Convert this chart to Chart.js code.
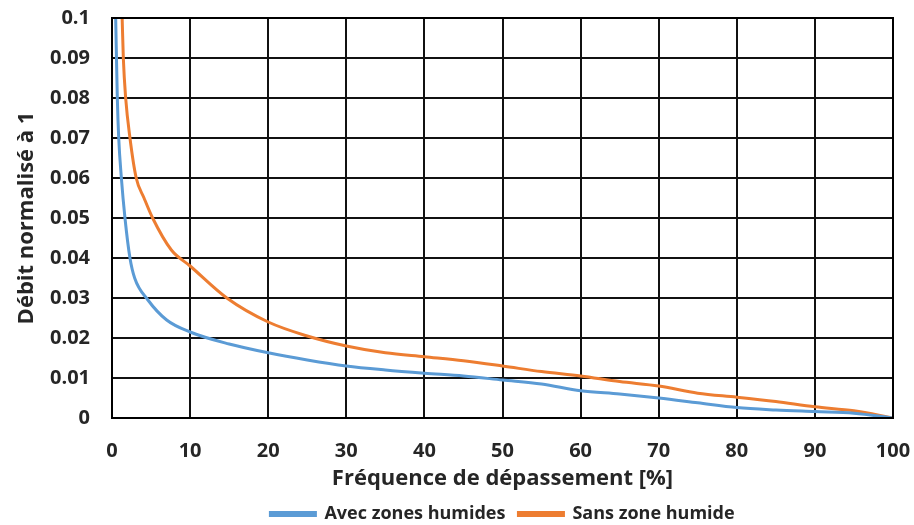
<!DOCTYPE html>
<html>
<head>
<meta charset="utf-8">
<script src="https://cdn.jsdelivr.net/npm/chart.js@4.4.1/dist/chart.umd.min.js"></script>
<style>
  html, body { margin: 0; padding: 0; background: #fff; }
  #wrap { width: 914px; height: 525px; }
</style>
</head>
<body>
<div id="wrap"><canvas id="canvas" width="914" height="525"></canvas></div>
<script>
// courbes des débits classés
var avecX = [0.47, 0.68, 0.86, 1.2, 1.66, 2.3, 2.9, 4.6, 7, 10, 15, 20, 25, 30, 35, 40, 45, 50, 55, 60, 65, 70, 75, 80, 85, 90, 95, 100];
var avecY = [0.1, 0.08, 0.07, 0.06, 0.05, 0.04, 0.035, 0.0295, 0.0245, 0.0215, 0.0185, 0.0163, 0.0145, 0.013, 0.012, 0.0112, 0.0105, 0.0095, 0.0085, 0.0068, 0.006, 0.005, 0.0038, 0.0026, 0.002, 0.0016, 0.0012, 0];

var sansX = [1.3, 1.45, 1.75, 2.3, 3.1, 4.1, 5.2, 7.6, 10, 14.7, 20, 25, 30, 35, 40, 45, 50, 55, 60, 65, 70, 75, 80, 85, 90, 95, 100];
var sansY = [0.1, 0.09, 0.08, 0.07, 0.06, 0.055, 0.05, 0.042, 0.038, 0.03, 0.024, 0.0205, 0.018, 0.0163, 0.0153, 0.0143, 0.013, 0.0116, 0.0105, 0.0091, 0.008, 0.0062, 0.0052, 0.0041, 0.0028, 0.0018, 0];

var seriesNames = ['Avec zones humides', 'Sans zone humide'];
var xTitle = 'Fréquence de dépassement [%]';
var yTitle = 'Débit normalisé à 1';

function toPoints(xs, ys) {
  return xs.map(function(x, i) { return { x: x, y: ys[i] }; });
}

var blue = '#5B9BD5';
var orange = '#ED7D31';
var txt = '#262626';
var fam = '"Open Sans", Lato, sans-serif';

var ctx = document.getElementById('canvas').getContext('2d');
new Chart(ctx, {
  type: 'line',
  data: {
    datasets: [{
      label: seriesNames[0],
      data: toPoints(avecX, avecY),
      borderColor: blue,
      backgroundColor: blue,
      borderWidth: 3,
      pointRadius: 0,
      tension: 0.3,
      cubicInterpolationMode: 'monotone'
    }, {
      label: seriesNames[1],
      data: toPoints(sansX, sansY),
      borderColor: orange,
      backgroundColor: orange,
      borderWidth: 3,
      pointRadius: 0,
      tension: 0.3,
      cubicInterpolationMode: 'monotone'
    }]
  },
  options: {
    responsive: false,
    animation: false,
    layout: { padding: { left: 0, right: 21, top: 18, bottom: -8 } },
    plugins: {
      tooltip: { enabled: false },
      legend: {
        position: 'bottom',
        labels: {
          color: txt,
          font: { family: fam, size: 18, weight: 'bold' },
          boxWidth: 45,
          boxHeight: 3,
          padding: 13
        }
      }
    },
    scales: {
      x: {
        type: 'linear',
        min: 0, max: 100,
        border: { color: '#000', width: 2 },
        grid: { color: '#111', lineWidth: 2, drawTicks: false },
        ticks: {
          stepSize: 10,
          color: txt,
          padding: 21,
          maxRotation: 0,
          font: { family: fam, size: 20, weight: 'bold' }
        },
        title: {
          display: true,
          text: xTitle,
          color: txt,
          padding: { top: 4, bottom: 0 },
          font: { family: fam, size: 22, weight: 'bold' }
        },
        afterFit: function(scale) {
          scale.height = 74;
          scale.paddingLeft = 0;
          scale.paddingRight = 0;
        }
      },
      y: {
        min: 0, max: 0.1,
        border: { color: '#000', width: 2 },
        grid: { color: '#111', lineWidth: 2, drawTicks: false },
        ticks: {
          stepSize: 0.01,
          color: txt,
          padding: 22,
          font: { family: fam, size: 20, weight: 'bold' },
          callback: function(v) { return String(Number(v.toFixed(2))); }
        },
        title: {
          display: true,
          text: yTitle,
          color: txt,
          padding: { top: 14, bottom: 0 },
          font: { family: fam, size: 22, weight: 'bold' }
        },
        afterFit: function(scale) {
          scale.width = 112;
          scale.paddingTop = 0;
          scale.paddingBottom = 0;
        }
      }
    }
  },
  plugins: [{
    id: 'frame',
    afterLayout: function(chart) {
      // legend centred under the plot area, as in the spreadsheet original
      if (chart.legend) {
        chart.legend.left = chart.chartArea.left;
        chart.legend.right = chart.chartArea.right;
      }
    },
    afterDraw: function(chart) {
      var a = chart.chartArea, c = chart.ctx;
      c.save();
      c.strokeStyle = '#000';
      c.lineWidth = 2;
      c.strokeRect(a.left, a.top, a.right - a.left, a.bottom - a.top);
      c.restore();
    }
  }]
});
</script>
</body>
</html>
